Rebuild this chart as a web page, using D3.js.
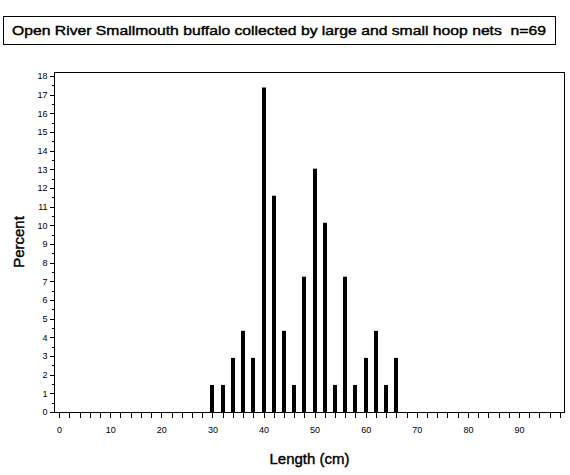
<!DOCTYPE html>
<html lang="en">
    <head>
        <meta charset="utf-8">
        <title>Smallmouth buffalo lengths</title>
        <script src="https://d3js.org/d3.v7.min.js"></script>
        <style type="text/css">
            body { margin: 0; background: #fff; }
            text { font-family: "Liberation Sans", Arial, sans-serif; fill: #000; }
            .axis path, .axis line { stroke: #000; stroke-width: 1; shape-rendering: crispEdges; }
            .axis text { font-size: 9px; }
            .heavy { stroke: #000; stroke-width: 0.4px; }
        </style>
    </head>
    <body>
        <script type="text/javascript">

            // length class (cm) and percent of n = 69 fish
            const lengths = [30, 32, 34, 36, 38, 40, 42, 44, 46, 48, 50, 52, 54, 56, 58, 60, 62, 64, 66];
            const percents = [1.45, 1.45, 2.90, 4.35, 2.90, 17.39, 11.59, 4.35, 1.45, 7.25, 13.04, 10.14, 1.45, 7.25, 1.45, 2.90, 4.35, 1.45, 2.90];
            const xTickValues = d3.range(0, 100, 2);
            const xLabelValues = [0, 10, 20, 30, 40, 50, 60, 70, 80, 90];
            const yTickValues = d3.range(0, 19, 1);
            const yMinorValues = d3.range(0.5, 18, 1);
            const title = "Open River Smallmouth buffalo collected by large and small hoop nets  n=69";

            const w = 570;
            const h = 475;
            const plotL = 54, plotR = 565, plotT = 72, plotB = 412;

            const data = lengths.map((d, i) => ({ len: d, pct: percents[i] }));

            const svg = d3.select("body")
                          .append("svg")
                          .attr("width", w)
                          .attr("height", h);

            // title box
            svg.append("rect")
               .attr("x", 3.5)
               .attr("y", 16.5)
               .attr("width", 552)
               .attr("height", 28)
               .attr("fill", "none")
               .attr("stroke", "#000");

            svg.append("text")
               .attr("class", "heavy")
               .attr("x", 12)
               .attr("y", 30)
               .attr("dy", "0.35em")
               .attr("textLength", 534)
               .attr("lengthAdjust", "spacingAndGlyphs")
               .style("font-size", "13px")
               .style("white-space", "pre")
               .text(title);

            const xScale = d3.scaleLinear()
                             .domain([-1, 99])
                             .range([plotL, plotR]);

            const yScale = d3.scaleLinear()
                             .domain([0, 18.22])
                             .range([plotB, plotT]);

            // plot frame
            svg.append("rect")
               .attr("x", plotL + 0.5)
               .attr("y", plotT + 0.5)
               .attr("width", plotR - plotL - 1)
               .attr("height", plotB - plotT)
               .attr("fill", "none")
               .attr("stroke", "#000")
               .style("shape-rendering", "crispEdges");

            // bars
            svg.selectAll("rect.bar")
               .data(data)
               .enter()
               .append("rect")
               .attr("class", "bar")
               .attr("x", d => Math.round(xScale(d.len)) - 2)
               .attr("y", d => yScale(d.pct))
               .attr("width", 4)
               .attr("height", d => yScale(0) - yScale(d.pct))
               .attr("fill", "#000");

            // x axis: ticks every 2, labels every 10
            const bottomAxis = d3.axisBottom(xScale)
                                 .tickValues(xTickValues)
                                 .tickSize(5)
                                 .tickSizeOuter(0)
                                 .tickPadding(9)
                                 .tickFormat(d => xLabelValues.includes(d) ? d : "");

            svg.append("g")
               .attr("class", "axis")
               .attr("transform", "translate(0," + (plotB + 0.5) + ")")
               .call(bottomAxis)
               .call(g => g.select(".domain").remove());

            // y axis with minor ticks
            const leftAxis = d3.axisLeft(yScale)
                               .tickValues(yTickValues)
                               .tickSize(5)
                               .tickSizeOuter(0)
                               .tickPadding(2)
                               .tickFormat(d3.format("d"));

            svg.append("g")
               .attr("class", "axis")
               .attr("transform", "translate(" + (plotL + 0.5) + ",0)")
               .call(leftAxis)
               .call(g => g.select(".domain").remove());

            svg.append("g")
               .attr("class", "axis")
               .attr("transform", "translate(" + (plotL + 0.5) + ",0)")
               .call(d3.axisLeft(yScale).tickValues(yMinorValues).tickSize(3).tickSizeOuter(0).tickFormat(""))
               .call(g => g.select(".domain").remove());

            // axis titles
            svg.append("text")
               .attr("class", "heavy")
               .attr("transform", "translate(19," + ((plotT + plotB) / 2) + ") rotate(-90)")
               .attr("text-anchor", "middle")
               .attr("dy", "0.35em")
               .style("font-size", "15px")
               .text("Percent");

            svg.append("text")
               .attr("class", "heavy")
               .attr("x", (plotL + plotR) / 2)
               .attr("y", 459)
               .attr("text-anchor", "middle")
               .attr("dy", "0.35em")
               .style("font-size", "15px")
               .text("Length (cm)");

        </script>
    </body>
</html>
